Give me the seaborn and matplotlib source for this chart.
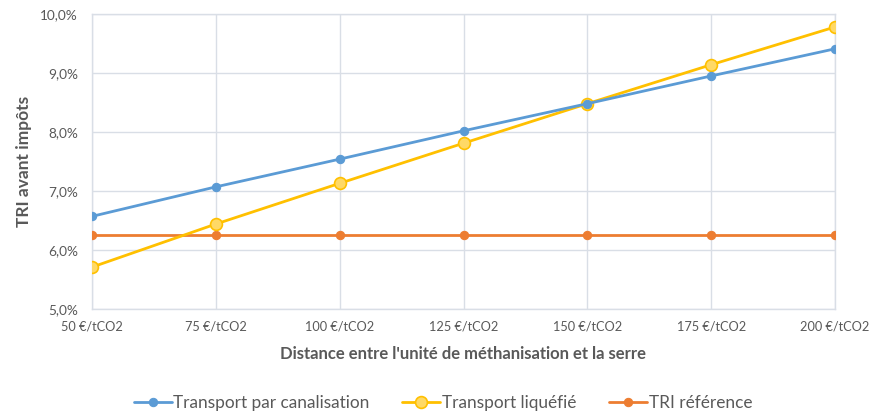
import matplotlib
matplotlib.use("Agg")
import matplotlib.pyplot as plt
from matplotlib.ticker import FuncFormatter
import numpy as np
import pandas as pd
import seaborn as sns

prix_co2 = ["50 €/tCO2", "75 €/tCO2", "100 €/tCO2", "125 €/tCO2",
            "150 €/tCO2", "175 €/tCO2", "200 €/tCO2"]
canalisation = [6.57, 7.07, 7.54, 8.02, 8.48, 8.95, 9.41]
liquefie = [5.71, 6.44, 7.13, 7.81, 8.48, 9.14, 9.78]
reference = [6.26, 6.26, 6.26, 6.26, 6.26, 6.26, 6.26]

series = {
    "Transport par canalisation": canalisation,
    "Transport liquéfié": liquefie,
    "TRI référence": reference,
}
rows = []
for name, vals in series.items():
    for i, (lab, v) in enumerate(zip(prix_co2, vals)):
        rows.append({"pos": i, "prix": lab, "tri": v, "serie": name})
df = pd.DataFrame(rows)

sns.set_theme(style="white")
plt.rcParams["font.family"] = ["Lato", "DejaVu Sans"]
txt = "#595959"
grid = "#D9DEE6"

fig = plt.figure(figsize=(8.71, 4.13), dpi=100)
ax = fig.add_axes([92 / 871, 1 - 309 / 413, (835 - 92) / 871, (309 - 14) / 413])

styles = {
    "Transport par canalisation": dict(color="#5B9BD5", marker="o", markersize=6,
                                       markerfacecolor="#5B9BD5", markeredgecolor="#5B9BD5"),
    "Transport liquéfié": dict(color="#FFC000", marker="o", markersize=8.5,
                               markerfacecolor="#FFD966", markeredgecolor="#FFC000",
                               markeredgewidth=1.2),
    "TRI référence": dict(color="#ED7D31", marker="o", markersize=6,
                          markerfacecolor="#ED7D31", markeredgecolor="#ED7D31"),
}
order = ["Transport par canalisation", "Transport liquéfié", "TRI référence"]
zorders = {"TRI référence": 3, "Transport liquéfié": 4, "Transport par canalisation": 5}
for name in order:
    sub = df[df["serie"] == name]
    sns.lineplot(data=sub, x="pos", y="tri", ax=ax, label=name, linewidth=2,
                 zorder=zorders[name], **styles[name])

ax.set_xlim(0, len(prix_co2) - 1)
ax.set_ylim(5, 10)
ax.set_xticks(range(len(prix_co2)))
ax.set_xticklabels(prix_co2)
ax.set_yticks(np.arange(5, 10.01, 1))
ax.yaxis.set_major_formatter(FuncFormatter(lambda v, p: f"{v:.1f}%".replace(".", ",")))
ax.grid(True, color=grid, linewidth=1)
ax.set_axisbelow(True)
for s in ax.spines.values():
    s.set_color(grid)
    s.set_linewidth(1)
ax.tick_params(axis="x", colors=txt, labelsize=9.2, length=0, pad=8)
ax.tick_params(axis="y", colors=txt, labelsize=9.8, length=0, pad=10)
ax.set_xlabel("Distance entre l'unité de méthanisation et la serre", color=txt,
              fontsize=12, fontweight="bold", labelpad=10)
ax.set_ylabel("TRI avant impôts", color=txt, fontsize=12.5, fontweight="bold", labelpad=6)

leg = ax.legend(loc="center", bbox_to_anchor=(443 / 871, 1 - 403 / 413),
                bbox_transform=fig.transFigure, ncol=3, frameon=False,
                fontsize=12.4, handlelength=2.2, columnspacing=1.9, handletextpad=0.1)
for t in leg.get_texts():
    t.set_color(txt)

fig.savefig("out.png", dpi=100, facecolor="white")
